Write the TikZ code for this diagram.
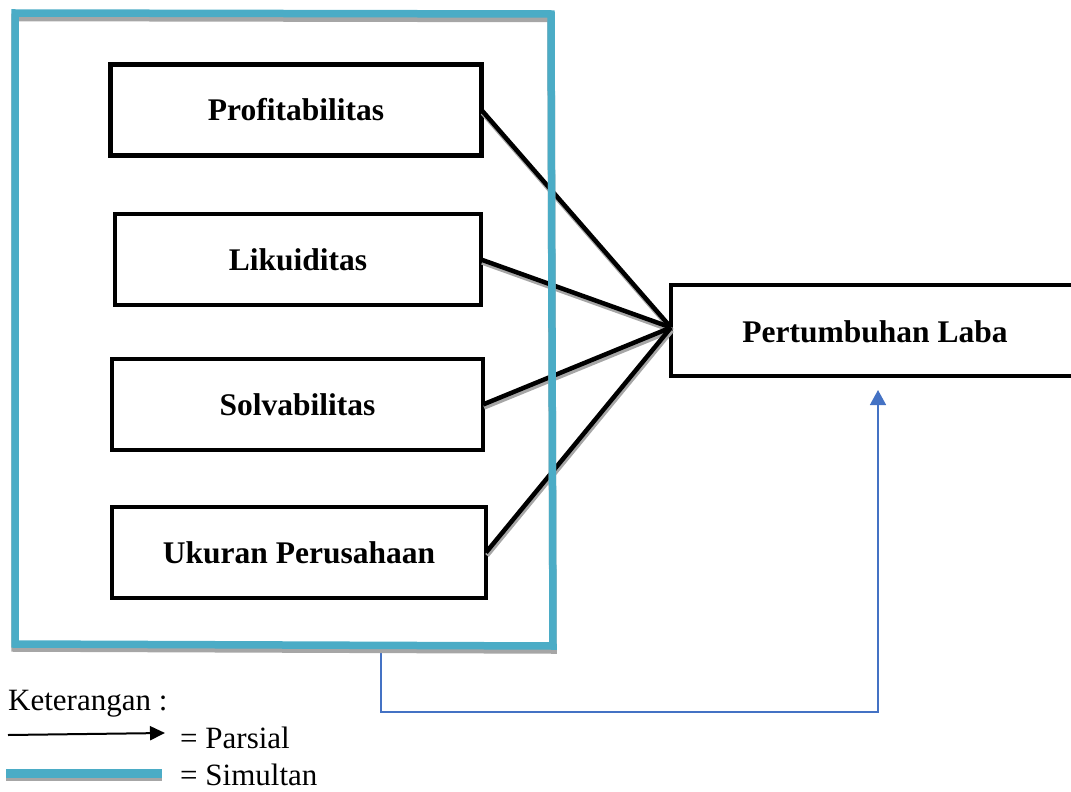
\documentclass[tikz,border=0pt]{standalone}
\usepackage{fontspec}
\setmainfont{Liberation Serif}
\usetikzlibrary{arrows.meta}
\definecolor{frameblue}{HTML}{4BACC6}
\definecolor{shadowgray}{HTML}{A6A6A6}
\definecolor{arrowblue}{HTML}{4472C4}
\begin{document}
\begin{tikzpicture}[x=1pt,y=-1pt,
  varbox/.style={draw=black, line width=4.5pt, inner sep=0pt, outer sep=0pt, minimum height=91pt, font=\fontsize{31.5}{36}\selectfont\bfseries},
  link/.style={line width=4.5pt, black},
  linkshadow/.style={line width=4.5pt, shadowgray},
  legtext/.style={anchor=base west, inner sep=0pt, font=\fontsize{31}{36}\selectfont},
  framestyle/.style={line width=7.5pt, frameblue, line join=miter},
]
\useasboundingbox (0,0) rectangle (1071,792);
\clip (0,0) rectangle (1071,792);

% variable boxes
\node[varbox, minimum width=371pt] (prof) at (296,110) {Profitabilitas};
\node[varbox, minimum width=366pt] (liku) at (298,259.5) {Likuiditas};
\node[varbox, minimum width=371pt] (solv) at (297.5,404.5) {Solvabilitas};
\node[varbox, minimum width=374pt] (ukur) at (299,552.5) {Ukuran Perusahaan};
\node[varbox, minimum width=404pt] (pert) at (873,330.5) {};
\node[inner sep=0pt, font=\fontsize{31.5}{36}\selectfont\bfseries] (pertlabel) at (875,332) {Pertumbuhan Laba};

% partial links with shadow
\coordinate (meet) at ([yshift=3pt]pert.west);
\foreach \v in {prof,liku,solv,ukur}{
  \draw[linkshadow] ([xshift=1pt,yshift=-3pt]\v.east) -- ([xshift=1pt,yshift=-3pt]meet);
}
\foreach \v in {prof,liku,solv,ukur}{
  \draw[link] (\v.east) -- (meet);
}

% simultaneous connector
\coordinate (tap) at (381,648);
\coordinate (bend) at (381,712);
\coordinate (tip) at (878,390);
\draw[arrowblue, line width=1.5pt, -{Triangle[width=16pt,length=15pt]}] (tap) -- (bend) -| (tip);

% simultaneous frame with shadow
\draw[line width=7.5pt, shadowgray] (15,17.5) -- (551,18.5) -- (553,650) -- (15,648) -- cycle;
\draw[framestyle] (15,13) -- (551,14) -- (553,646) -- (15,644) -- cycle;

% legend
\node[legtext] (ket) at (8,710) {Keterangan :};
\coordinate (la) at (8,735);
\coordinate (lb) at (165,733);
\draw[line width=2pt, -{Triangle[width=14pt,length=15pt]}] (la) -- (lb);
\node[legtext] (pars) at (180,748) {= Parsial};
\coordinate (ba) at (6,773);
\coordinate (bb) at (162,773);
\draw[shadowgray, line width=8pt] ([yshift=-4pt]ba) -- ([yshift=-4pt]bb);
\draw[frameblue, line width=9pt] (ba) -- (bb);
\node[legtext] (simu) at (180,785) {= Simultan};
\end{tikzpicture}
\end{document}
